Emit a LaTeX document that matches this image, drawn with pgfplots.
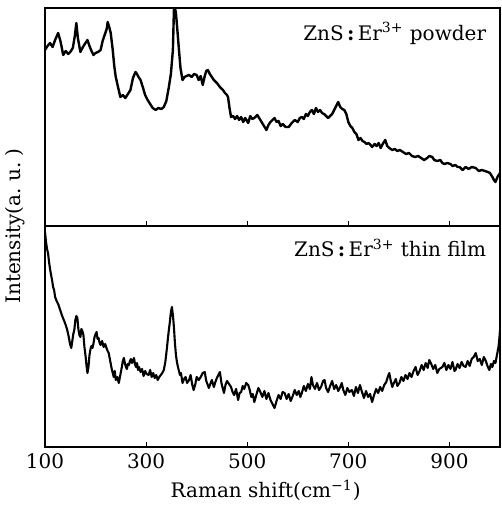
\documentclass[border=0pt]{standalone}
\usepackage{fontspec}
\setmainfont{DejaVu Serif}
\usepackage{pgfplots}
\pgfplotsset{compat=1.18}

% Raman spectra, ZnS:Er3+ powder (top) and thin film (bottom)
\pgfplotsset{
  raman/.style={
    scale only axis,
    width=227.5pt,
    xmin=100, xmax=1000,
    xtick={100,300,500,700,900},
    ytick=\empty,
    tick align=inside,
    xtick pos=bottom,
    major tick length=2.5pt,
    axis line style={line width=0.6pt},
    every tick/.style={line width=0.6pt, black},
    /pgf/number format/assume math mode=true,
    /pgf/number format/set thousands separator={},
    ticklabel style={font=\fontsize{10}{12}\selectfont},
  },
  spec/.style={black, line join=round, no marks},
}

\begin{document}
\begin{tikzpicture}
\useasboundingbox (-22.5pt,-29pt) rectangle (228.5pt,223.5pt);

% bottom panel: thin film
\begin{axis}[raman, at={(0pt,0pt)}, anchor=south west,
  height=110.5pt, ymin=0, ymax=221,
  xlabel={Raman shift(cm\textsuperscript{−1})},
  xlabel style={at={(axis description cs:0.485,0)}, anchor=base, yshift=-25.5pt},
]
\addplot[spec, line width=1.05pt] coordinates {
(100,215) (102,205) (104,198) (106,194) (108,185) (110,178) (112,172) (114,167)
(116,160) (118,157) (120,150) (123,146) (126,143) (130,137) (134,131) (138,126)
(141,122) (144,117) (147,110) (150,102) (152,99) (154,106) (156,113) (158,117)
(160,127) (162,131) (164,129) (166,118) (168,112) (170,110) (172,118) (174,116)
(176,112) (178,100) (180,92) (182,82) (184,74) (186,80) (188,92) (190,98)
(192,101) (194,99) (196,104) (198,110) (200,113) (202,115) (204,108) (206,109)
(208,104) (210,102) (213,106) (216,100) (219,103) (223,97) (226,94) (229,86)
(232,78) (234,74) (236,70) (238,76) (240,67) (243,70) (246,64) (249,72)
(252,80) (254,86) (256,89) (258,84) (260,80) (262,78) (264,83) (266,82)
(268,86) (270,88) (272,84) (274,86) (276,89) (278,83) (280,80) (282,84)
(284,77) (286,80) (289,75) (292,78) (295,71) (298,76) (301,73) (305,72)
(308,77) (311,70) (314,74) (317,69) (320,72) (323,67) (326,70) (329,72)
(332,74) (335,77) (338,85) (341,98) (343,108) (345,117) (347,125) (349,135)
(351,140) (353,132) (355,120) (357,104) (359,92) (361,85) (363,80) (365,76)
(367,72) (369,74) (372,64) (375,68) (378,70) (381,64) (385,67) (388,72)
(391,63) (394,57) (397,62) (400,70) (404,67) (408,70) (412,74) (416,75)
(419,66) (422,62) (424,59) (427,63) (430,67) (434,60) (437,65) (440,69)
(443,72) (446,75) (449,64) (452,58) (454,54) (457,62) (460,66) (464,63)
(468,60) (471,55) (474,52) (478,58) (482,47) (485,54) (488,55) (491,61)
(494,58) (498,64) (502,62) (505,57) (508,50) (511,53) (514,45) (518,52)
(522,59) (526,55) (530,50) (534,56) (538,48) (542,54) (546,47) (550,43)
(554,39) (558,46) (562,52) (566,48) (570,55) (574,54) (578,48) (582,53)
(586,46) (590,51) (594,57) (598,52) (602,56) (605,50) (608,54) (612,61)
(616,56) (620,63) (624,58) (627,70) (630,62) (634,58) (638,64) (642,57)
(646,60) (650,66) (653,67) (656,59) (660,55) (664,61) (668,66) (672,58)
(676,62) (680,56) (684,60) (687,64) (690,57) (694,52) (698,59) (702,55)
(707,57) (711,51) (715,60) (719,54) (723,62) (727,55) (731,49) (735,56)
(739,50) (743,53) (747,45) (751,52) (755,58) (759,54) (763,60) (767,56)
(771,62) (775,65) (778,70) (781,74) (784,66) (787,60) (790,64) (794,68)
(797,61) (801,64) (805,70) (809,66) (813,72) (817,68) (821,74) (825,70)
(829,76) (833,80) (837,72) (841,76) (845,82) (849,77) (853,84) (857,79)
(860,87) (864,83) (868,78) (872,82) (876,74) (880,78) (886,80) (890,84)
(894,77) (898,82) (902,78) (906,85) (910,76) (912,77) (916,83) (920,79)
(924,85) (928,81) (932,80) (936,86) (940,81) (944,88) (948,90) (952,94)
(956,86) (960,88) (964,82) (968,90) (972,86) (976,80) (979,77) (982,83)
(985,80) (988,86) (991,84) (994,92) (997,100) (999,110) (1000,117)
};
\node[anchor=base east] at (rel axis cs:0.985,0.86) {ZnS\,\textbf{:}\,Er\textsuperscript{3+} thin film};
\end{axis}

% top panel: powder
\begin{axis}[raman, at={(0pt,110.5pt)}, anchor=south west,
  height=109pt, ymin=0, ymax=218,
  xticklabels=\empty,
]
\addplot[spec, line width=1.2pt] coordinates {
(100,176) (105,180) (110,183) (115,179) (120,186) (126,193) (131,184) (136,171)
(141,175) (146,172) (150,174) (155,178) (159,190) (162,203) (165,188) (170,174)
(175,179) (180,183) (184,186) (188,180) (192,175) (196,171) (200,173) (205,174)
(210,176) (214,185) (218,191) (222,197) (224,204) (227,199) (230,193) (234,176)
(237,160) (240,149) (244,140) (249,129) (254,131) (259,128) (264,132) (269,136)
(274,148) (279,154) (282,152) (285,149) (289,146) (294,138) (298,131) (303,126)
(308,122) (313,118) (319,116) (324,118) (330,117) (335,119) (340,125) (345,139)
(349,152) (353,176) (355,216) (357,218) (359,213) (362,195) (365,176) (368,158)
(372,146) (376,149) (380,150) (385,151) (390,149) (395,152) (400,151) (404,146)
(408,150) (412,141) (416,150) (419,155) (422,156) (426,152) (430,149) (434,146)
(440,143) (446,139) (452,136) (456,133) (460,131) (462,129) (465,118) (468,109)
(472,110) (476,107) (480,110) (484,106) (488,109) (492,104) (496,108) (502,103)
(506,110) (510,107) (514,108) (520,111) (526,106) (532,101) (538,96) (542,101)
(546,104) (550,106) (554,108) (558,104) (562,105) (566,100) (570,102) (576,99)
(582,99) (588,103) (594,106) (600,104) (604,108) (608,109) (612,107) (616,112)
(620,110) (624,114) (628,116) (632,112) (636,118) (640,114) (644,116) (648,113)
(652,112) (656,110) (660,108) (664,110) (668,112) (672,116) (676,120) (680,124)
(684,119) (688,117) (692,116) (696,112) (700,104) (704,100) (708,98) (712,94)
(716,92) (720,86) (724,88) (728,85) (732,84) (736,82) (740,83) (744,81)
(747,79) (752,82) (756,80) (760,83) (764,78) (768,82) (773,86) (777,80)
(781,78) (787,76) (792,77) (797,75) (802,76) (808,74) (814,72) (820,73)
(826,70) (832,69) (838,70) (844,68) (850,66) (856,68) (860,70) (866,69)
(870,66) (876,65) (882,66) (886,63) (890,62) (896,63) (902,62) (906,60)
(912,61) (916,59) (920,59) (926,56) (932,59) (938,57) (944,59) (952,58)
(958,55) (964,56) (970,55) (976,54) (980,53) (985,49) (988,46) (991,44)
(995,49) (1000,53)
};
\node[anchor=base east] at (rel axis cs:0.985,0.853) {ZnS\,\textbf{:}\,Er\textsuperscript{3+} powder};
\end{axis}

\node[rotate=90] at (-15pt,110.5pt) {Intensity(a.\ u.\ )};
\end{tikzpicture}
\end{document}
